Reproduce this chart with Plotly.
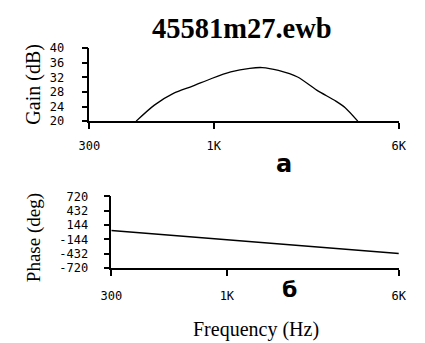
import plotly.graph_objects as go

# Gain response (dB) vs frequency (Hz)
gain_freq = [472, 563, 677, 815, 980, 1179, 1418, 1600, 1871, 2252, 2709, 3261, 3570, 4032]
gain_db = [20, 24.4, 27.6, 29.6, 31.7, 33.5, 34.5, 34.7, 33.9, 32.1, 28.5, 25.5, 23.7, 20]

# Phase response (deg) vs frequency (Hz)
phase_freq = [300, 500, 1000, 2000, 4000, 6000]
phase_deg = [35, -44, -152, -259, -367, -430]

# Axis ticks
freq_ticks = [300, 1000, 6000]
freq_labels = ["300", "1K", "6K"]
gain_ticks = [20, 24, 28, 32, 36, 40]
phase_ticks = [-720, -432, -144, 144, 432, 720]
phase_labels = ["-720", "-432", "-144", "144", "432", "720"]

W, H = 425, 343
MONO = dict(family="DejaVu Sans Mono", size=12, color="black")
SERIF = "Liberation Serif"

fig = go.Figure()
fig.add_trace(go.Scatter(x=gain_freq, y=gain_db, mode="lines",
                         line=dict(color="black", width=1.3, shape="spline", smoothing=0.8),
                         xaxis="x", yaxis="y", showlegend=False))
fig.add_trace(go.Scatter(x=phase_freq, y=phase_deg, mode="lines",
                         line=dict(color="black", width=1.5),
                         xaxis="x2", yaxis="y2", showlegend=False))

axis_common = dict(showline=True, linecolor="black", linewidth=1.5,
                   ticks="outside", ticklen=6, tickcolor="black", tickwidth=1.5,
                   showgrid=False, zeroline=False, tickfont=MONO)

fig.update_layout(
    width=W, height=H, autosize=False,
    margin=dict(l=0, r=0, t=0, b=0),
    paper_bgcolor="white", plot_bgcolor="white",
    xaxis=dict(type="log", range=[2.4771, 3.7782],
               domain=[82 / W, 406 / W], anchor="y",
               tickvals=freq_ticks, ticktext=freq_labels,
               ticklabelstandoff=7, **axis_common),
    yaxis=dict(range=[20, 40], domain=[1 - 119 / H, 1 - 43 / H], anchor="x",
               tickvals=gain_ticks, ticklabelstandoff=15, **axis_common),
    xaxis2=dict(type="log", range=[2.4771, 3.7782],
                domain=[105 / W, 406 / W], anchor="y2",
                tickvals=freq_ticks, ticktext=freq_labels,
                ticklabelstandoff=10, **axis_common),
    yaxis2=dict(range=[-720, 720], domain=[1 - 272 / H, 1 - 197.5 / H], anchor="x2",
                tickvals=phase_ticks, ticktext=phase_labels,
                ticklabelstandoff=13, **axis_common),
)

def label(text, x, y, size, family, bold=False, angle=0):
    fig.add_annotation(text=text, x=x / W, y=1 - y / H, xref="paper", yref="paper",
                       showarrow=False, textangle=angle,
                       xanchor="center", yanchor="middle",
                       font=dict(family=family, size=size, color="black",
                                 weight="bold" if bold else "normal"))

label("45581m27.ewb", 242, 22, 28.5, SERIF, bold=True)
label("Gain (dB)", 24, 80, 20, SERIF, angle=-90)
label("Phase (deg)", 24, 240, 19, SERIF, angle=-90)
label("а", 286, 164, 24, "DejaVu Sans", bold=True)
label("б", 292, 294, 22, "DejaVu Sans", bold=True)
label("Frequency (Hz)", 256, 336, 20, SERIF)

fig.write_html("out.html")
